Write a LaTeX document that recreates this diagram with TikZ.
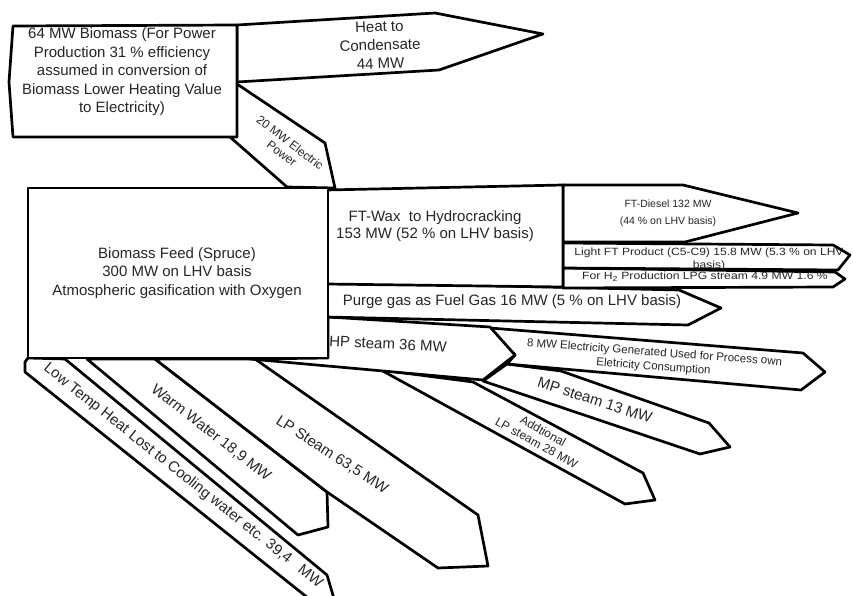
\documentclass[tikz,border=0pt]{standalone}
\usepackage{fontspec}
\setmainfont{Liberation Sans}
\begin{document}
\begin{tikzpicture}[x=1pt,y=-1pt,
  flow/.style={draw=black, fill=white, line width=2.7pt, line join=round},
  lbl/.style={text=black!85, align=center, inner sep=0pt, font=\fontsize{15}{18.5}\selectfont},
  small/.style={text=black!85, align=center, inner sep=0pt, font=\fontsize{12}{13.5}\selectfont},
  tiny/.style={text=black!85, align=center, inner sep=0pt, font=\fontsize{10.5}{13.5}\selectfont}]
\useasboundingbox (0,0) rectangle (853,596);
% bottom fan
\draw[flow] (28,358) -- (65,359) -- (327,575) -- (335,602) -- (313,602) -- (25,372) -- (25,362) -- cycle;
\draw[flow] (87,359) -- (155,359) -- (327,492) -- (328,527) -- (298,535) -- cycle;
\draw[flow] (155,359) -- (255,359) -- (478,515) -- (488,566) -- (438,568) -- (327,492) -- cycle;
\draw[flow] (381,370) -- (473,382) -- (643,473) -- (655,500) -- (625,504) -- cycle;
\draw[flow] (483,381) -- (507,364) -- (561,371) -- (709,423) -- (730,447) -- (700,454) -- cycle;
% electricity and HP steam
\draw[flow] (490,328) -- (803,353) -- (825,372) -- (801,390) -- (507,364) -- (515,355) -- cycle;
\draw[flow] (328,317) -- (490,327) -- (515,355) -- (483,380) -- (250,359) -- (328,358) -- cycle;
% purge gas
\draw[flow] (326,282) -- (679,290) -- (721,308) -- (688,325) -- (326,317) -- cycle;
% FT products
\draw[flow] (563,268) -- (835,272) -- (845,279) -- (833,287) -- (563,288) -- cycle;
\draw[flow] (563,243) -- (833,245) -- (850,255) -- (838,270) -- (563,268) -- cycle;
\draw[flow] (563,185) -- (683,185) -- (798,213) -- (685,242) -- (563,242) -- cycle;
\draw[flow] (326,190) -- (563,185) -- (563,287) -- (326,284) -- cycle;
% top
\draw[flow] (237,25) -- (435,13) -- (543,34) -- (439,70) -- (237,82) -- cycle;
\draw[flow] (237,84) -- (325,143) -- (335,188) -- (287,187) -- (230,137) -- cycle;
\draw[flow] (13,26) -- (237,25) -- (237,137) -- (13,137) -- (9,82) -- cycle;
% main box
\draw[flow] (28,188) rectangle (328,358);
% texts
\node[lbl] (tbio) at (122,72) {64 MW Biomass (For Power\\Production 31 \% efficiency\\assumed in conversion of\\Biomass Lower Heating Value\\to Electricity)};
\node[lbl, rotate=2] (theat) at (380,45) {Heat to\\Condensate\\44 MW};
\node[small, rotate=-37.6] (tpow) at (286,148) {20 MW Electric\\Power};
\node[lbl] (tmain) at (177,273) {Biomass Feed (Spruce)\\300 MW on LHV basis\\Atmospheric gasification with Oxygen};
\node[lbl, font=\fontsize{15}{17.5}\selectfont] (twax) at (435,226) {FT-Wax\ \ to Hydrocracking\\153 MW (52 \% on LHV basis)};
\node[tiny, font=\fontsize{10.5}{17}\selectfont] (tdies) at (668,213) {FT-Diesel 132 MW\\(44 \% on LHV basis)};
\node[tiny, xscale=1.15, font=\fontsize{10.5}{13}\selectfont] (tlight) at (709,259) {Light FT Product (C5-C9) 15.8 MW (5.3 \% on LHV\\basis)};
\node[tiny, xscale=1.16] (th2) at (705,277) {For H\textsubscript{2} Production LPG stream 4.9 MW 1.6 \%};
\node[lbl] (tpurge) at (512,302) {Purge gas as Fuel Gas 16 MW (5 \% on LHV basis)};
\node[lbl, rotate=-3] (thp) at (388,344) {HP steam 36 MW};
\node[small, rotate=-4.3, font=\fontsize{11.5}{14}\selectfont] (telec) at (654,360) {8 MW Electricity Generated Used for Process own\\Eletricity Consumption};
\node[lbl, rotate=-18] (tmp) at (595,400) {MP steam 13 MW};
\node[small, rotate=-29] (tadd) at (540,437) {Addtional\\LP steam 28 MW};
\node[lbl, rotate=-33] (tlp) at (332,455) {LP Steam 63,5 MW};
\node[lbl, rotate=-38] (tww) at (211,433) {Warm Water 18,9 MW};
\node[lbl, rotate=-38.5] (tlow) at (183,476) {Low Temp Heat Lost to Cooling water etc. 39,4\ \ \ MW};
\end{tikzpicture}
\end{document}
